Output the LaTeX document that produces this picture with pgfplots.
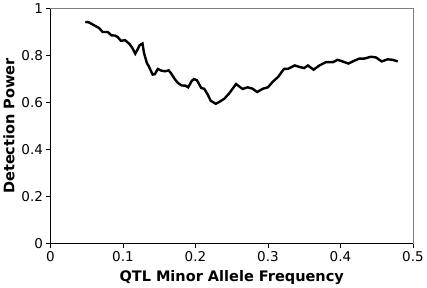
\documentclass[border=0pt]{standalone}
\usepackage{pgfplots}
\pgfplotsset{compat=1.18}
\usepackage{fontspec}
\setmainfont{DejaVu Sans}

\begin{document}
\begin{tikzpicture}
\begin{axis}[
    scale only axis,
    width=362pt, height=235pt,
    xmin=0, xmax=0.5, ymin=0, ymax=1,
    xtick={0,0.1,0.2,0.3,0.4,0.5},
    ytick={0,0.2,0.4,0.6,0.8,1},
    axis x line*=bottom, axis y line*=left,
    axis line style={black, line width=0.8pt, -},
    tick style={black, line width=0.8pt},
    tick align=outside, major tick length=4pt,
    /pgf/number format/fixed,
    /pgf/number format/assume math mode=true,
    tick label style={font=\fontsize{13.5}{15}\selectfont},
    xlabel={\textbf{QTL Minor Allele Frequency}},
    ylabel={\textbf{Detection Power}},
    label style={font=\fontsize{14.5}{17}\selectfont},
    xlabel style={yshift=-2pt},
    ylabel style={yshift=0pt},
    clip=false,
]
\draw[gray, line width=0.8pt] (rel axis cs:0,1) -- (rel axis cs:1,1) -- (rel axis cs:1,0);
\addplot[black, line width=2.4pt] coordinates {
(0.048,0.942) (0.053,0.940) (0.060,0.928) (0.067,0.916) (0.072,0.899)
(0.079,0.899) (0.084,0.885) (0.089,0.884) (0.093,0.877) (0.097,0.862)
(0.103,0.864) (0.109,0.848) (0.113,0.831) (0.117,0.807) (0.120,0.824)
(0.123,0.843) (0.127,0.850) (0.129,0.810) (0.133,0.767) (0.135,0.757)
(0.141,0.718) (0.144,0.720) (0.148,0.742) (0.153,0.735) (0.158,0.732)
(0.163,0.736) (0.166,0.725) (0.171,0.701) (0.176,0.682) (0.181,0.672)
(0.186,0.671) (0.190,0.664) (0.195,0.692) (0.198,0.699) (0.202,0.694)
(0.208,0.661) (0.212,0.658) (0.217,0.633) (0.221,0.607) (0.228,0.594)
(0.233,0.602) (0.240,0.616) (0.247,0.640) (0.256,0.678) (0.265,0.657)
(0.272,0.664) (0.279,0.658) (0.285,0.644) (0.293,0.658) (0.300,0.664)
(0.307,0.689) (0.314,0.708) (0.322,0.742) (0.328,0.743) (0.337,0.757)
(0.344,0.750) (0.350,0.746) (0.355,0.757) (0.363,0.739) (0.371,0.757)
(0.380,0.771) (0.390,0.771) (0.396,0.781) (0.403,0.774) (0.411,0.765)
(0.419,0.777) (0.426,0.786) (0.433,0.786) (0.442,0.794) (0.449,0.791)
(0.457,0.774) (0.465,0.783) (0.472,0.781) (0.479,0.774)
};
\end{axis}
\end{tikzpicture}
\end{document}
